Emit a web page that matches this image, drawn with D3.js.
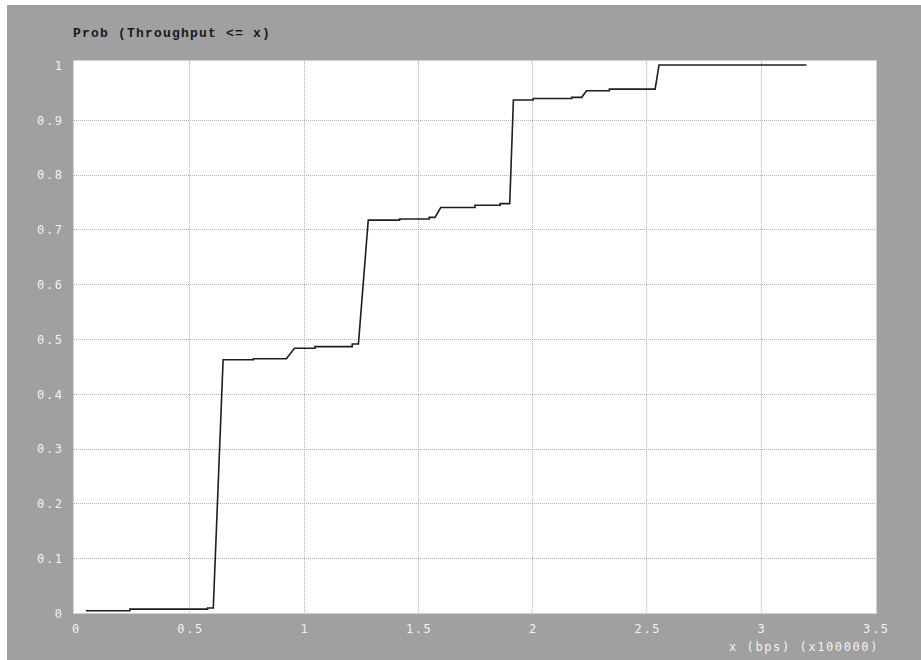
<!DOCTYPE html>
<html>
<head>
<meta charset="utf-8">
<script src="https://cdn.jsdelivr.net/npm/d3@7"></script>
<style>
  html, body { margin: 0; padding: 0; background: #ffffff; }
  svg { display: block; }
  .tick-label { font-family: "DejaVu Sans Mono", monospace; font-size: 12px; fill: #f2f2f2; letter-spacing: 1.6px; }
  .title { font-family: "Liberation Mono", "Courier New", monospace; font-size: 13px; font-weight: bold; fill: #1a1a1a; letter-spacing: 1.2px; }
</style>
</head>
<body>
<script>
// Empirical CDF of throughput (x in units of 100000 bps)
const throughput = [0.048, 0.24, 0.24, 0.58, 0.58, 0.605, 0.648, 0.78, 0.78, 0.925, 0.96, 1.05, 1.05,
  1.213, 1.213, 1.24, 1.283, 1.42, 1.42, 1.55, 1.55, 1.575, 1.60, 1.75, 1.75, 1.86, 1.86, 1.902,
  1.918, 2.005, 2.005, 2.173, 2.173, 2.217, 2.238, 2.338, 2.338, 2.538, 2.555, 3.2];
const probability = [0.004, 0.004, 0.007, 0.007, 0.009, 0.009, 0.462, 0.462, 0.464, 0.464, 0.483, 0.483, 0.486,
  0.486, 0.491, 0.491, 0.717, 0.717, 0.719, 0.719, 0.722, 0.722, 0.740, 0.740, 0.744, 0.744, 0.747, 0.747,
  0.936, 0.936, 0.939, 0.939, 0.941, 0.941, 0.953, 0.953, 0.956, 0.956, 1.0, 1.0];

const xTicks = [0, 0.5, 1, 1.5, 2, 2.5, 3, 3.5];
const xTickLabels = ["0", "0.5", "1", "1.5", "2", "2.5", "3", "3.5"];
const yTicks = [0, 0.1, 0.2, 0.3, 0.4, 0.5, 0.6, 0.7, 0.8, 0.9, 1];
const yTickLabels = ["0", "0.1", "0.2", "0.3", "0.4", "0.5", "0.6", "0.7", "0.8", "0.9", "1"];
const xGrid = [0.5, 1, 1.5, 2, 2.5, 3];
const yGrid = [0.1, 0.2, 0.3, 0.4, 0.5, 0.6, 0.7, 0.8, 0.9];

const W = 921, H = 660;
const frame = { left: 73, right: 877, top: 60, bottom: 613 };

const svg = d3.select("body").append("svg").attr("width", W).attr("height", H);

// grey panel
svg.append("rect").attr("x", 7).attr("y", 5).attr("width", W - 7).attr("height", H - 5).attr("fill", "#a0a0a0");

const x = d3.scaleLinear().domain([0, 3.5]).range([75, 875]);
const y = d3.scaleLinear().domain([0, 1]).range([613, 65]);

// plotting area
svg.append("rect")
  .attr("x", frame.left + 0.5).attr("y", frame.top + 0.5)
  .attr("width", frame.right - frame.left - 1).attr("height", frame.bottom - frame.top)
  .attr("fill", "#ffffff").attr("stroke", "#d2d2d2").attr("stroke-width", 1);

// dotted grid
const grid = svg.append("g").attr("stroke", "#b4b4b4").attr("stroke-width", 1).attr("stroke-dasharray", "1,1");
grid.selectAll("line.v").data(xGrid).join("line")
  .attr("x1", d => Math.round(x(d)) + 0.5).attr("x2", d => Math.round(x(d)) + 0.5)
  .attr("y1", frame.top + 1).attr("y2", frame.bottom);
grid.selectAll("line.h").data(yGrid).join("line")
  .attr("y1", d => Math.round(y(d)) + 0.5).attr("y2", d => Math.round(y(d)) + 0.5)
  .attr("x1", frame.left + 1).attr("x2", frame.right - 1);

// axes: labels only, lines come from the frame and grid
const xAxis = d3.axisBottom(x).tickValues(xTicks).tickSize(0).tickPadding(0)
  .tickFormat((d, i) => xTickLabels[i]);
const gx = svg.append("g").attr("transform", "translate(0,633)").call(xAxis);
gx.select(".domain").remove();
gx.selectAll("text").attr("class", "tick-label").attr("dy", 0).attr("y", 0)
  .attr("dx", "0.8px");

const yAxis = d3.axisLeft(y).tickValues(yTicks).tickSize(0).tickPadding(0)
  .tickFormat((d, i) => yTickLabels[i]);
const gy = svg.append("g").attr("transform", "translate(63.6,0)").call(yAxis);
gy.select(".domain").remove();
gy.selectAll("text").attr("class", "tick-label").attr("dy", "0.36em");

// titles
svg.append("text").attr("class", "title").attr("x", 73).attr("y", 37).text("Prob (Throughput <= x)");
svg.append("text").attr("class", "tick-label").attr("x", 879).attr("y", 651)
  .attr("text-anchor", "end").text("x (bps) (x100000)");

// CDF curve
const pts = throughput.map((t, i) => [t, probability[i]]);
const line = d3.line().x(d => x(d[0])).y(d => y(d[1]));
svg.append("path").datum(pts)
  .attr("d", line)
  .attr("fill", "none").attr("stroke", "#1e1e1e").attr("stroke-width", 1.6)
  .attr("stroke-linejoin", "miter");
</script>
</body>
</html>
